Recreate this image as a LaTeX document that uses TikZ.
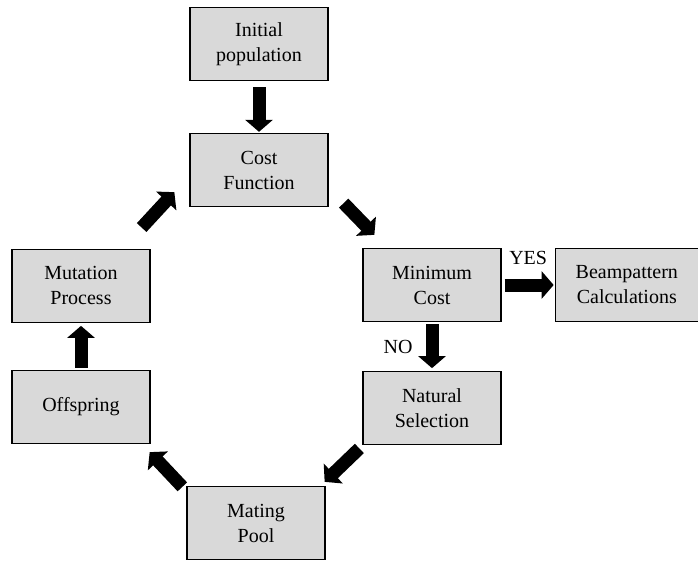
\documentclass[tikz,border=0pt]{standalone}
\usepackage{fontspec}
\setmainfont{Liberation Serif}
\usetikzlibrary{positioning,arrows.meta}

\begin{document}
\begin{tikzpicture}
    [x=1pt,y=1pt,
     box/.style={rectangle,draw=black,line width=1.3pt,fill=black!15,minimum width=138pt,minimum height=73pt,align=center,font=\fontsize{20}{25}\selectfont},
     fat/.style={line width=13pt,-{Triangle[width=27pt,length=12pt]}},
     lbl/.style={inner sep=0pt,font=\fontsize{20}{25}\selectfont}]

    \useasboundingbox (0,0) rectangle (698,-561);

    \node[box] (init) at (259,-44) {Initial\\population};
    \node[box] (cost) at (259,-170) {Cost\\Function};
    \node[box] (mincost) at (432,-285) {Minimum\\Cost};
    \node[box,minimum width=143pt] (beam) [right=53pt of mincost] {Beampattern\\Calculations};
    \node[box] (natsel) [below=49pt of mincost] {Natural\\Selection};
    \node[box] (mating) at (256,-523) {Mating\\Pool};
    \node[box] (offs) at (81,-407) {Offspring};
    \node[box] (mut) [above=47pt of offs] {Mutation\\Process};

    \draw[fat,shorten <=6pt,shorten >=1pt] (init) -- (cost);
    \draw[fat] ([shift={(15,4)}]cost.south east) -- ([shift={(12,13)}]mincost.north west);
    \draw[fat,shorten <=3pt,shorten >=1pt] (mincost.east) -- (mincost.east -| beam.west)
      node [lbl,midway,above=14pt] {YES};
    \draw[fat,shorten <=2pt,shorten >=3pt] (mincost) -- (natsel)
      node [lbl,midway,left=13pt] {NO};
    \draw[fat] ([shift={(-3,-3)}]natsel.south west) -- ([shift={(-1,4)}]mating.north east);
    \draw[fat] ([shift={(-4,-1)}]mating.north west) -- ([shift={(-1,-8)}]offs.south east);
    \draw[fat,shorten <=2pt,shorten >=3pt] (offs) -- (mut);
    \draw[fat] ([shift={(-9,21)}]mut.north east) -- ([shift={(-15,15)}]cost.south west);
\end{tikzpicture}
\end{document}
